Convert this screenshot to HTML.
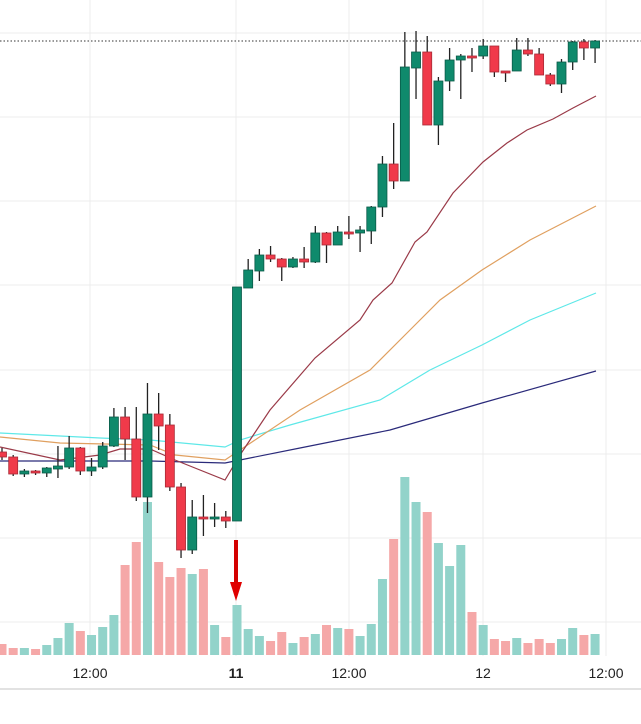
<!DOCTYPE html>
<html><head><meta charset="utf-8"><style>
html,body{margin:0;padding:0;background:#fff;width:641px;height:724px;overflow:hidden}
svg{display:block}
text{font-family:"Liberation Sans",sans-serif;font-size:14px;fill:#222}
</style></head><body>
<svg id="c" width="641" height="724" viewBox="0 0 641 724" xmlns="http://www.w3.org/2000/svg">
<g stroke="#ececec" stroke-width="1">
<line x1="0" y1="33" x2="641" y2="33"/><line x1="0" y1="117" x2="641" y2="117"/>
<line x1="0" y1="201" x2="641" y2="201"/><line x1="0" y1="285" x2="641" y2="285"/>
<line x1="0" y1="370" x2="641" y2="370"/><line x1="0" y1="454" x2="641" y2="454"/>
<line x1="0" y1="538" x2="641" y2="538"/><line x1="0" y1="622" x2="641" y2="622"/>
<line x1="90" y1="0" x2="90" y2="656"/><line x1="236" y1="0" x2="236" y2="656"/>
<line x1="349" y1="0" x2="349" y2="656"/><line x1="483" y1="0" x2="483" y2="656"/>
<line x1="606" y1="0" x2="606" y2="656"/>
</g>
<line x1="0" y1="41" x2="641" y2="41" stroke="#333" stroke-width="1" stroke-dasharray="1.5,2"/>
<g id="vol"></g>
<g fill="none" stroke-width="1.2">
<polyline stroke="#5ee8e8" points="0,433 100,438 150,440 225,447 240,440 290,425 380,400 430,370 482,345 530,320 596,293"/>
<polyline stroke="#e0a060" points="0,437 60,443 150,445 175,455 225,460 240,450 300,410 370,370 410,330 440,300 482,270 530,240 596,206"/>
<polyline stroke="#2a2a7a" points="0,461 100,461 150,461 225,463 240,460 300,448 390,430 482,403 596,371"/>
<polyline stroke="#9a3a48" points="0,447 60,460 100,455 120,449 150,449 175,460 225,480 240,455 270,410 315,358 360,320 373,300 392,283 415,242 427,232 453,193 483,162 507,143 527,130 553,119 573,108 596,96"/>
</g>
<g id="cand"></g>
<line x1="236" y1="540" x2="236" y2="584" stroke="#d40000" stroke-width="4"/>
<polygon points="230,582 242,582 236,601" fill="#e00000"/>
<line x1="0" y1="689" x2="641" y2="689" stroke="#d8d8d8" stroke-width="1.5"/>
<text x="90" y="678" text-anchor="middle">12:00</text>
<text x="236" y="678" text-anchor="middle" style="font-weight:bold">11</text>
<text x="349" y="678" text-anchor="middle">12:00</text>
<text x="483" y="678" text-anchor="middle">12</text>
<text x="606" y="678" text-anchor="middle">12:00</text>
</svg>
<script>
var vol=[[644,0],[648,0],[648,1],[649,0],[645,1],[638,1],[623,1],[631,0],[635,1],[627,1],[615,1],[565,0],[542,0],[502,1],[562,0],[577,0],[568,0],[574,1],[569,0],[625,1],[637,0],[605,1],[629,1],[636,1],[641,0],[632,0],[643,1],[637,0],[634,1],[625,0],[628,1],[629,0],[636,1],[624,1],[579,1],[539,0],[477,1],[502,1],[512,0],[543,1],[566,1],[545,1],[612,0],[625,1],[639,0],[641,0],[638,1],[643,0],[639,0],[643,0],[639,1],[628,1],[635,0],[634,1]];
// [bodyTop,bodyBot,wickTop,wickBot,green]
var c=[[452,457,448,460,0],[457,474,455,476,0],[471,474,469,477,1],[471,473,470,475,0],[468,473,467,477,1],[466,469,446,478,1],[448,467,436,469,1],[448,471,447,475,0],[467,471,458,476,1],[446,467,442,469,1],[417,446,408,447,1],[417,439,407,460,0],[439,497,407,501,0],[414,497,383,513,1],[414,426,393,450,0],[425,487,414,491,0],[487,550,483,558,0],[517,550,500,554,1],[517,519,495,536,0],[517,519,503,527,1],[517,521,511,528,0],[287,521,287,521,1],[270,288,259,288,1],[255,271,249,281,1],[255,259,246,262,0],[259,267,258,281,0],[259,267,257,268,1],[259,262,247,268,0],[233,262,226,263,1],[233,245,232,263,0],[232,245,226,245,1],[232,233,216,239,0],[230,233,226,252,1],[207,231,206,244,1],[164,207,156,217,1],[164,181,123,189,0],[67,181,32,181,1],[52,68,31,99,1],[52,125,36,125,0],[81,125,77,145,1],[60,81,48,91,1],[56,60,54,99,1],[56,57,48,72,0],[46,56,39,59,1],[46,72,46,77,0],[71,72,71,82,0],[50,71,38,71,1],[50,54,38,56,0],[54,75,48,75,0],[75,84,73,86,0],[62,84,59,93,1],[42,62,41,70,1],[42,48,39,60,0],[41,48,40,63,1]];
var ns="http://www.w3.org/2000/svg";
function el(p,t,a){var e=document.createElementNS(ns,t);for(var k in a)e.setAttribute(k,a[k]);p.appendChild(e);}
var V=document.getElementById('vol'),C=document.getElementById('cand');
for(var i=0;i<54;i++){var x=2+11.19*i;
var v=vol[i];el(V,'rect',{x:x-4.5,y:v[0],width:9,height:655-v[0],fill:v[1]?'#92d3ca':'#f5a8a8'});
var d=c[i];var g=d[4];
el(C,'line',{x1:x,y1:d[2],x2:x,y2:d[3],stroke:'#222','stroke-width':1.3});
var h=Math.max(d[1]-d[0],2);
el(C,'rect',{x:x-4.5,y:d[0],width:9,height:h,fill:g?'#0f8a6c':'#f03a4a',stroke:g?'#0a5a48':'#a82a35','stroke-width':0.8});
}
</script>
</body></html>
